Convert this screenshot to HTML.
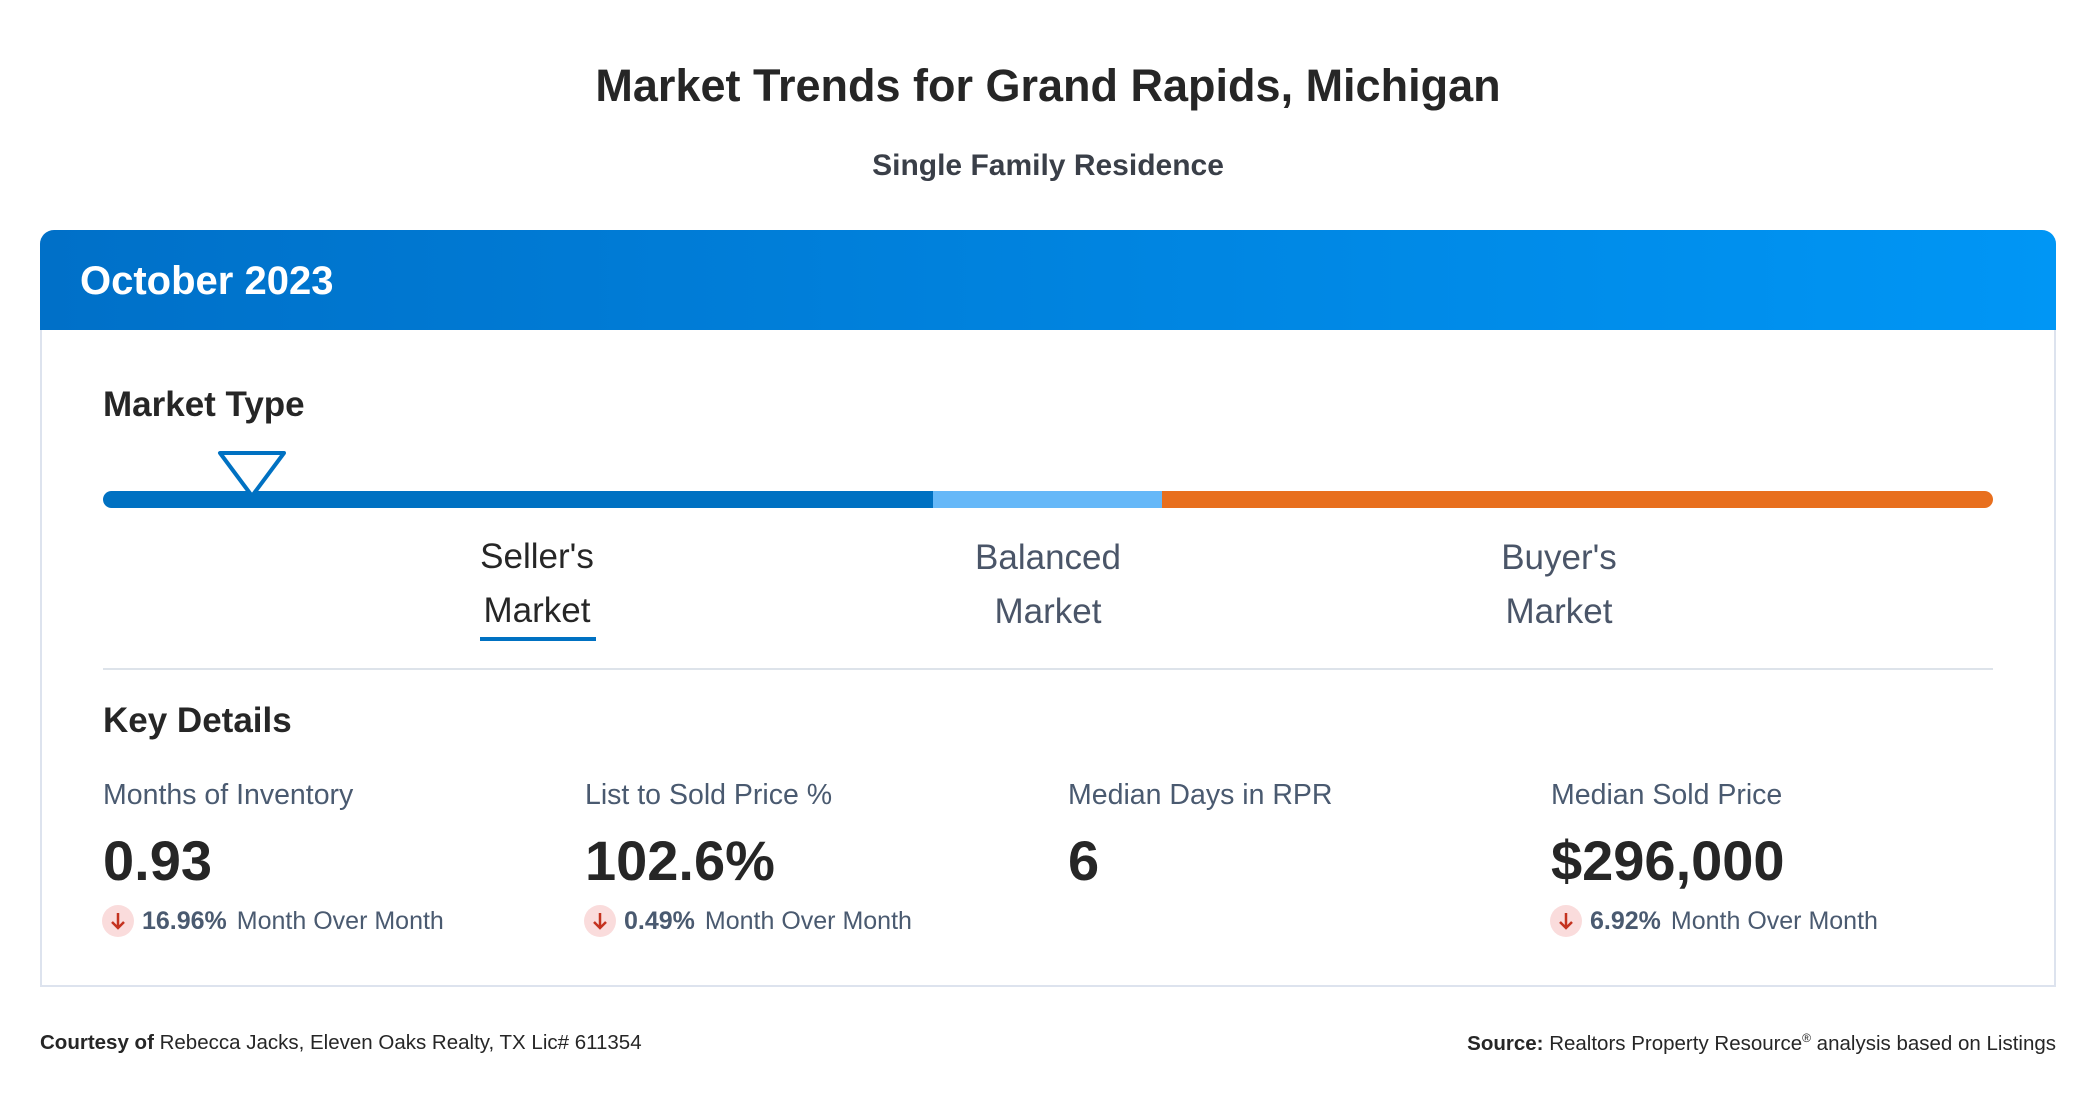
<!DOCTYPE html>
<html><head><meta charset="utf-8"><style>
*{margin:0;padding:0;box-sizing:border-box}
body{width:2096px;height:1100px;background:#fff;position:relative;font-family:"Liberation Sans",sans-serif;overflow:hidden}
.a{position:absolute;white-space:nowrap}
.c{transform:translateX(-50%);text-align:center}
.lab{font-size:28.5px;color:#4a5a70;top:779px}
.val{font-size:56px;font-weight:bold;color:#262626;top:828px}
.mom{top:905px;font-size:25px;color:#4a5a70;height:32px;line-height:32px;display:flex;align-items:center}
.ic{width:32px;height:32px;border-radius:50%;background:#fadcdc;margin-right:8px;position:relative}
.mom b{margin-right:10px;color:#4a5a70}
.mk{font-size:35px;line-height:54px;color:#4a5568}
</style></head><body>
<div class="a c" style="left:1048px;top:60px;font-size:45px;font-weight:bold;color:#262626">Market Trends for Grand Rapids, Michigan</div>
<div class="a c" style="left:1048px;top:149px;font-size:30px;font-weight:bold;color:#3a3f48">Single Family Residence</div>
<div class="a" style="left:40px;top:230px;width:2016px;height:757px;border:2px solid #dde3ee;border-top:none;border-radius:14px 14px 0 0"></div>
<div class="a" style="left:40px;top:230px;width:2016px;height:100px;border-radius:14px 14px 0 0;background:linear-gradient(90deg,#0070c8,#0096f5)"></div>
<div class="a" style="left:80px;top:259px;font-size:40px;font-weight:bold;color:#fff">October 2023</div>
<div class="a" style="left:103px;top:385px;font-size:35px;font-weight:bold;color:#262626">Market Type</div>
<div class="a" style="left:103px;top:491px;width:1890px;height:17px;border-radius:9px;overflow:hidden;display:flex">
<div style="width:830px;background:#0071c2"></div><div style="width:229px;background:#66b8f8"></div><div style="flex:1;background:#e86f1e"></div></div>
<svg class="a" style="left:212px;top:446px" width="80" height="56"><polygon points="8,7 72,7 40,50" fill="#fff" stroke="#0071c2" stroke-width="4" stroke-linejoin="round"/></svg>
<div class="a c mk" style="left:537px;top:530px;color:#262626">Seller's<br>Market</div>
<div class="a" style="left:480px;top:637px;width:116px;height:4px;background:#0071c2"></div>
<div class="a c mk" style="left:1048px;top:531px">Balanced<br>Market</div>
<div class="a c mk" style="left:1559px;top:531px">Buyer's<br>Market</div>
<div class="a" style="left:103px;top:668px;width:1890px;height:2px;background:#dde3ea"></div>
<div class="a" style="left:103px;top:701px;font-size:35px;font-weight:bold;color:#262626">Key Details</div>
<div class="a lab" style="left:103px">Months of Inventory</div>
<div class="a lab" style="left:585px">List to Sold Price %</div>
<div class="a lab" style="left:1068px">Median Days in RPR</div>
<div class="a lab" style="left:1551px">Median Sold Price</div>
<div class="a val" style="left:103px">0.93</div>
<div class="a val" style="left:585px">102.6%</div>
<div class="a val" style="left:1068px">6</div>
<div class="a val" style="left:1551px">$296,000</div>
<div class="a mom" style="left:102px"><span class="ic"><svg width="32" height="32"><path d="M16 8V23M10 17L16 23L22 17" stroke="#c4321f" stroke-width="2.5" fill="none"/></svg></span><b>16.96%</b>Month Over Month</div>
<div class="a mom" style="left:584px"><span class="ic"><svg width="32" height="32"><path d="M16 8V23M10 17L16 23L22 17" stroke="#c4321f" stroke-width="2.5" fill="none"/></svg></span><b>0.49%</b>Month Over Month</div>
<div class="a mom" style="left:1550px"><span class="ic"><svg width="32" height="32"><path d="M16 8V23M10 17L16 23L22 17" stroke="#c4321f" stroke-width="2.5" fill="none"/></svg></span><b>6.92%</b>Month Over Month</div>
<div class="a" style="left:40px;top:1031px;font-size:20.5px;color:#262626"><b>Courtesy of</b> Rebecca Jacks, Eleven Oaks Realty, TX Lic# 611354</div>
<div class="a" style="right:40px;top:1031px;font-size:20.5px;color:#262626"><b>Source:</b> Realtors Property Resource<sup style="font-size:12px">®</sup> analysis based on Listings</div>
</body></html>
